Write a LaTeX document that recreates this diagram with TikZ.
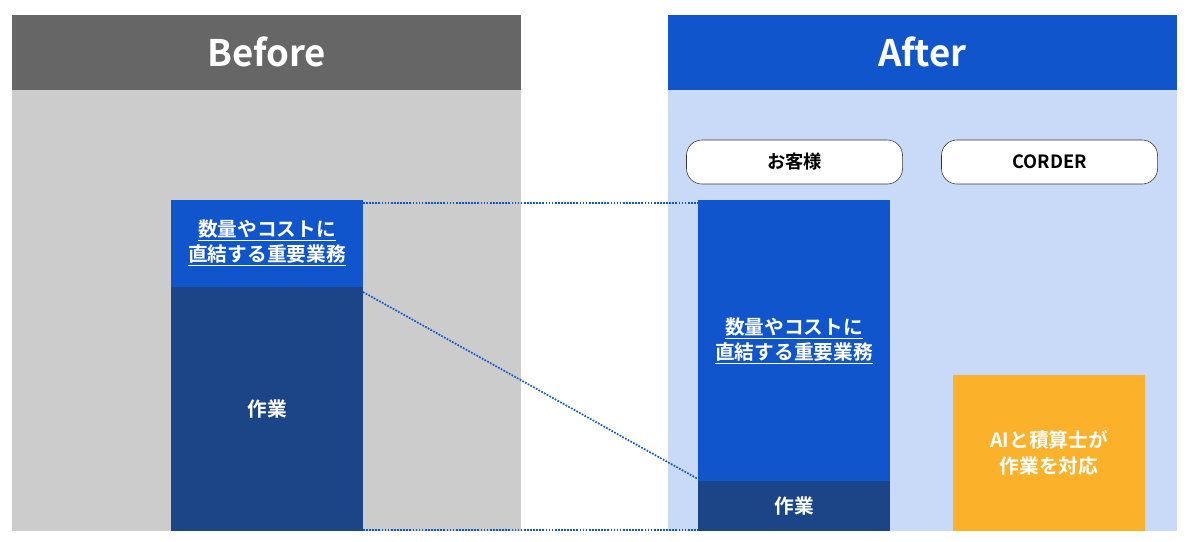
\documentclass[tikz,border=0pt]{standalone}
\usepackage{fontspec}
\setmainfont{Noto Sans CJK JP}[BoldFont={* Bold}]
\usetikzlibrary{positioning}
\definecolor{headgray}{HTML}{666666}
\definecolor{panelgray}{HTML}{CCCCCC}
\definecolor{headblue}{HTML}{1155CC}
\definecolor{panelblue}{HTML}{C9DAF8}
\definecolor{taskblue}{HTML}{1C4587}
\definecolor{aiorange}{HTML}{FBB12A}
\begin{document}
\begin{tikzpicture}[x=0.025cm, y=-0.025cm,
        head/.style={font=\bfseries\fontsize{26}{30}\selectfont, text=white},
        pill/.style={draw=black!80, fill=white, rounded corners=11pt, minimum width=5.4cm, minimum height=1.1cm, font=\bfseries\fontsize{13}{15}\selectfont},
        boxtext/.style={text=white, align=center, font=\bfseries\fontsize{14}{18}\selectfont},
        link/.style={densely dotted, very thick, headblue}
    ]
        \useasboundingbox (0,0) rectangle (1200,541);

        % Before panel
        \fill[panelgray] (12,90) rectangle (521,531);
        \fill[headgray] (12,15) rectangle (521,90);
        \node[head] (before) at (266.5,52) {Before};
        \fill[headblue] (171,200) rectangle (363,287);
        \fill[taskblue] (171,287) rectangle (363,531);
        \node[boxtext] (bcore) at (267,243) {\underline{数量やコストに}\\\underline{直結する重要業務}};
        \node[boxtext] (btask) at (267,409) {作業};

        % After panel
        \fill[panelblue] (668,90) rectangle (1177,531);
        \fill[headblue] (668,15) rectangle (1177,90);
        \node[head] (after) at (922.5,52) {After};
        \node[pill] (client) at (794.5,162) {お客様};
        \node[pill] (corder) at (1049.5,162) {CORDER};
        \fill[headblue] (698,200) rectangle (890,481);
        \fill[taskblue] (698,481) rectangle (890,531);
        \fill[aiorange] (953,375) rectangle (1145,531);
        \node[boxtext] (acore) at (794,341) {\underline{数量やコストに}\\\underline{直結する重要業務}};
        \node[boxtext] (atask) at (794,506) {作業};
        \node[boxtext] (ai) at (1049,453) {AIと積算士が\\作業を対応};

        % Dotted links
        \coordinate (b1) at (363,203);
        \coordinate (b2) at (363,292);
        \coordinate (b3) at (363,530);
        \coordinate (a1) at (698,203);
        \coordinate (a2) at (698,479);
        \coordinate (a3) at (698,530);
        \draw[link] (b1) -- (a1);
        \draw[link] (b2) -- (a2);
        \draw[link] (b3) -- (a3);
    \end{tikzpicture}
\end{document}
